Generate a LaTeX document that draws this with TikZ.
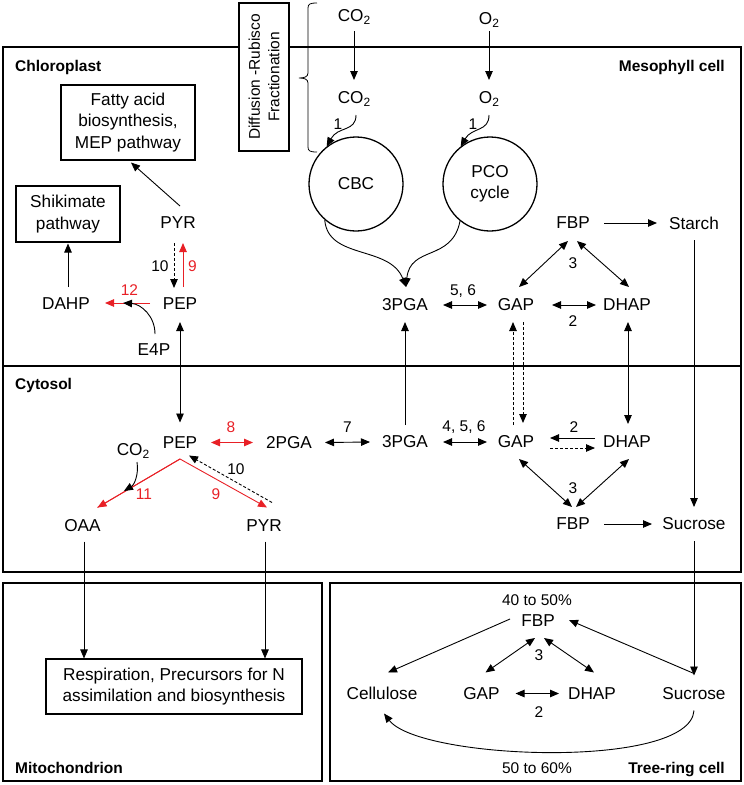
\documentclass[tikz,border=0pt]{standalone}
\usepackage{fontspec}
\setmainfont{Liberation Sans}
\usetikzlibrary{arrows.meta,calc}
\definecolor{myred}{RGB}{232,32,38}
\newcommand\fbig{\fontsize{17.2pt}{21.5pt}\selectfont}
\newcommand\fsm{\fontsize{15.5pt}{19.5pt}\selectfont}
\newcommand\mysub[1]{\raisebox{-3.5pt}{\fontsize{12pt}{12pt}\selectfont #1}}
\begin{document}
\begin{tikzpicture}[x=1pt,y=-1pt,
  lbl/.style={font=\fbig, inner sep=0pt, align=center},
  num/.style={font=\fsm, inner sep=0pt},
  ttl/.style={font={\fsm\bfseries}, inner sep=0pt},
  frm/.style={line width=1.4pt},
  bx/.style={draw, line width=1.1pt, font=\fbig, align=center, inner sep=0pt},
  arr/.style={line width=0.9pt, -{Triangle[length=9pt,width=7.5pt]}},
  darr/.style={line width=0.9pt, {Triangle[length=9pt,width=7.5pt]}-{Triangle[length=9pt,width=7.5pt]}},
  rd/.style={myred},
  dsh/.style={dash pattern=on 3pt off 2pt},
]
\useasboundingbox (0,0) rectangle (744,785);

% frames
\draw[frm] (3,47) rectangle (741,572);
\draw[frm] (3,366) -- (741,366);
\draw[frm] (3,583) rectangle (322,781);
\draw[frm] (330,583) rectangle (741,781);

% titles
\node[ttl, anchor=base west] (chl) at (15,71) {Chloroplast};
\node[ttl, anchor=base east] (meso) at (725,71) {Mesophyll cell};
\node[ttl, anchor=base west] (cyt) at (15,389) {Cytosol};
\node[ttl, anchor=base west] (mito) at (15,773) {Mitochondrion};
\node[ttl, anchor=base east] (tree) at (725,773) {Tree-ring cell};

% diffusion box and brace
\node[draw, fill=white, line width=1.1pt, rotate=90, font=\fsm, align=center, inner sep=0pt,
      minimum width=148pt, minimum height=50pt] (diff) at (264,77) {Diffusion -Rubisco\\Fractionation};
\draw[line width=0.8pt] (317,3) .. controls (310,3) and (308,4) .. (308,8) -- (308,73)
   .. controls (308,77) and (304,78) .. (299,78) .. controls (304,78) and (308,79) .. (308,83)
   -- (308,147) .. controls (308,151) and (310,152) .. (317,152);

% gases
\node[lbl] (co2a) at (354,17) {CO\mysub{2}};
\node[lbl] (co2b) at (354,99) {CO\mysub{2}};
\node[lbl] (o2a) at (489,20) {O\mysub{2}};
\node[lbl] (o2b) at (489,99) {O\mysub{2}};
\draw[arr] ($(co2a)+(0,14)$) -- ($(co2b)+(0,-19)$);
\draw[arr] ($(o2a)+(0,11)$) -- ($(o2b)+(0,-19)$);

% cycles
\node[draw, circle, line width=1.3pt, minimum size=94pt, lbl] (cbc) at (356,184) {CBC};
\node[draw, circle, line width=1.3pt, minimum size=94pt, lbl] (pco) at (490,184) {PCO\\cycle};
\draw[arr] ($(co2b)+(2,16)$) .. controls (356,132) and (338,126) .. (cbc.128);
\draw[arr] ($(o2b)+(0,16)$) .. controls (489,132) and (472,127) .. (pco.128);
\node[num] (one1) at (338,124) {1};
\node[num] (one2) at (473,124) {1};

% chloroplast right
\node[lbl] (fbpk) at (573,223) {FBP};
\node[lbl] (starch) at (694,223) {Starch};
\node[lbl] (pgak) at (405,305) {3PGA};
\node[lbl] (gapk) at (516,305) {GAP};
\node[lbl] (dhapk) at (627,305) {DHAP};
\draw[arr] (cbc.229) .. controls (328,260) and (390,245) .. ($(pgak)+(1,-18)$);
\draw[arr] (pco.231) .. controls (452,262) and (410,245) .. ($(pgak)+(1,-18)$);
\draw[arr] ($(fbpk)+(31,0)$) -- ($(starch)+(-37,0)$);
\draw[darr] ($(pgak)+(38,0)$) -- ($(gapk)+(-29,0)$);
\node[num] (l56) at (463,291) {5, 6};
\draw[darr] ($(gapk)+(36,0)$) -- ($(dhapk)+(-31,0)$);
\node[num] (l2k) at (573,321) {2};
\draw[darr] ($(fbpk)+(-5,18)$) -- ($(gapk)+(3,-18)$);
\draw[darr] ($(fbpk)+(4,18)$) -- ($(dhapk)+(2,-18)$);
\node[num] (l3k) at (573,263) {3};

% cytosol right
\node[lbl] (pgac) at (405,442) {3PGA};
\node[lbl] (gapc) at (516,442) {GAP};
\node[lbl] (dhapc) at (627,442) {DHAP};
\node[lbl] (fbpc) at (573,524) {FBP};
\node[lbl] (sucm) at (694,524) {Sucrose};
\draw[darr] ($(pgac)+(38,0)$) -- ($(gapc)+(-29,0)$);
\node[num] (l456) at (464,427) {4, 5, 6};
\draw[arr] ($(dhapc)+(-32,-4)$) -- ($(gapc)+(34,-4)$);
\draw[arr, dsh] ($(gapc)+(34,6)$) -- ($(dhapc)+(-32,6)$);
\node[num] (l2c) at (574,427) {2};
\draw[darr] ($(gapc)+(3,17)$) -- ($(fbpc)+(-1,-17)$);
\draw[darr] ($(dhapc)+(2,17)$) -- ($(fbpc)+(3,-17)$);
\node[num] (l3c) at (573,488) {3};
\draw[arr] ($(fbpc)+(31,0)$) -- ($(sucm)+(-42,0)$);

% exchanges chloroplast / cytosol
\draw[arr] ($(pgac)+(0,-17)$) -- ($(pgak)+(0,17)$);
\draw[arr, dsh] ($(gapc)+(-3,-17)$) -- ($(gapk)+(-3,17)$);
\draw[arr, dsh] ($(gapk)+(7,17)$) -- ($(gapc)+(7,-19)$);
\draw[darr] ($(dhapk)+(1,17)$) -- ($(dhapc)+(1,-18)$);
\draw[arr] ($(starch)+(0,17)$) -- ($(sucm)+(0,-17)$);

% chloroplast left
\node[bx, minimum width=134pt, minimum height=75pt] (fatty) at (128,122.5) {Fatty acid\\biosynthesis,\\MEP pathway};
\node[bx, minimum width=104pt, minimum height=56pt] (shik) at (68,214) {Shikimate\\pathway};
\node[lbl] (pyrk) at (178,223) {PYR};
\node[lbl] (dahp) at (66,304) {DAHP};
\node[lbl] (pepk) at (180,304) {PEP};
\node[lbl] (e4p) at (154,350) {E4P};
\draw[arr] ($(pyrk)+(2,-17)$) -- ($(fatty.south)+(3,2)$);
\draw[arr] ($(dahp)+(2,-17)$) -- ($(shik.south)+(0,1)$);
\draw[arr, dsh] ($(pyrk)+(-4,20)$) -- ($(pepk)+(-6,-16)$);
\node[num] (l10k) at (160,266) {10};
\draw[arr, rd] ($(pepk)+(3,-17)$) -- ($(pyrk)+(5,20)$);
\node[num, text=myred] (l9k) at (192.5,266) {9};
\draw[arr, rd] ($(pepk)+(-30,-1)$) -- ($(dahp)+(39,-1)$);
\node[num, text=myred] (l12) at (129.5,290) {12};
\draw[arr] ($(e4p)+(1,-16)$) .. controls (155,316) and (141,304) .. ($(dahp)+(57,-1)$);

% cytosol left
\node[lbl] (pepc) at (180,442.5) {PEP};
\node[lbl] (pga2) at (289,442.5) {2PGA};
\node[lbl] (co2c) at (133,451) {CO\mysub{2}};
\node[lbl] (oaa) at (82.5,525.5) {OAA};
\node[lbl] (pyrc) at (264,525.5) {PYR};
\draw[darr] ($(pepk)+(0,18)$) -- ($(pepc)+(0,-20)$);
\draw[darr, rd] ($(pepc)+(31,0)$) -- ($(pga2)+(-36,0)$);
\node[num, text=myred] (l8) at (231,427) {8};
\draw[darr] ($(pga2)+(36,0)$) -- ($(pgac)+(-35,0)$);
\node[num] (l7) at (347.5,427) {7};
\coordinate (apex) at ($(pepc)+(0,16.5)$);
\draw[arr, rd, line join=miter] ($(oaa)+(15,-18)$) -- (apex) -- ($(pyrc)+(3,-18)$);
\draw[arr, rd] (apex) -- ($(oaa)+(15,-18)$);
\node[num, text=myred] (l11) at (144,494) {11};
\node[num, text=myred] (l9c) at (216,494) {9};
\draw[arr, dsh] ($(pyrc)+(8,-23)$) -- ($(pepc)+(9,13)$);
\node[num] (l10c) at (236,469.5) {10};
\coordinate (co2tip) at (124,491);
\draw[arr] ($(co2c)+(4,11)$) .. controls (139,475) and (134,485) .. (co2tip);

% mitochondrion
\node[bx, minimum width=256pt, minimum height=55pt] (resp) at (174,686.5) {Respiration, Precursors for N\\assimilation and biosynthesis};
\draw[arr] ($(oaa)+(1.5,16)$) -- ($(oaa |- resp.north)+(1.5,0)$);
\draw[arr] ($(pyrc)+(1,16)$) -- ($(pyrc |- resp.north)+(1,0)$);

% tree-ring cell
\node[num] (pct1) at (537,600) {40 to 50\%};
\node[lbl] (fbpt) at (538,621) {FBP};
\node[lbl] (cell) at (382,693.5) {Cellulose};
\node[lbl] (gapt) at (481.5,693.5) {GAP};
\node[lbl] (dhapt) at (592,693.5) {DHAP};
\node[lbl] (suct) at (694,693.5) {Sucrose};
\node[num] (pct2) at (537,768) {50 to 60\%};
\draw[arr] ($(sucm)+(0,17)$) -- ($(suct)+(0,-18)$);
\draw[arr] ($(fbpt)+(-28,-2)$) -- ($(cell)+(6,-21)$);
\draw[arr] ($(suct)+(0,-20)$) -- ($(fbpt)+(31,-1)$);
\draw[darr] ($(fbpt)+(-3,17)$) -- ($(gapt)+(4,-21)$);
\draw[darr] ($(fbpt)+(6,17)$) -- ($(dhapt)+(2,-21)$);
\node[num] (l3t) at (539,655) {3};
\draw[darr] ($(gapt)+(34,0)$) -- ($(dhapt)+(-33,0)$);
\node[num] (l2t) at (539,712) {2};
\draw[arr] ($(suct)+(0,17)$) .. controls (690,770) and (420,760) .. ($(cell)+(2,20)$);
\end{tikzpicture}
\end{document}
